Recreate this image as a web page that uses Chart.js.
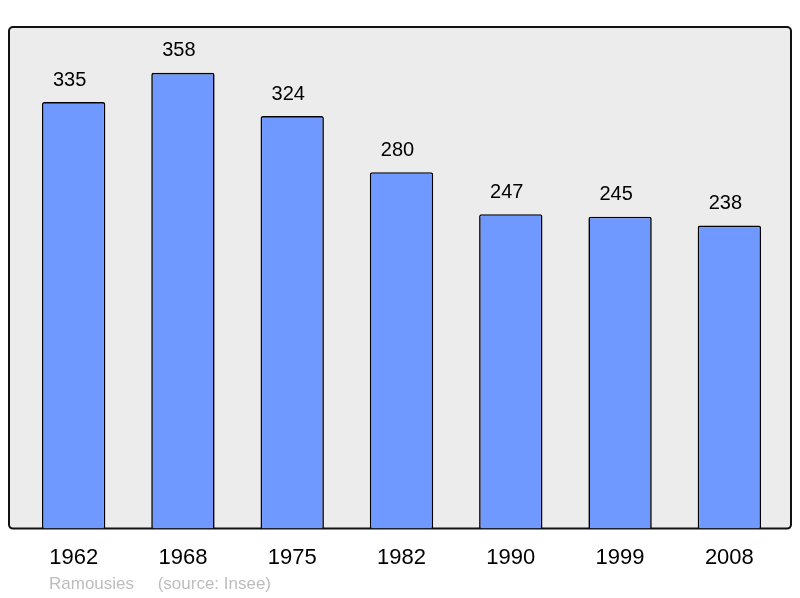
<!DOCTYPE html>
<html>
<head>
<meta charset="utf-8">
<script src="https://cdn.jsdelivr.net/npm/chart.js"></script>
<style>
body { margin: 0; background: #fff; }
#wrap { position: relative; width: 800px; height: 598px; }
#note { position: absolute; left: 49px; top: 574px; font: 17px "Liberation Sans", Arial, sans-serif; color: #bdbdbd; white-space: pre; }
</style>
</head>
<body>
<div id="wrap">
<canvas id="chart" width="800" height="598"></canvas>
<div id="note">Ramousies     (source: Insee)</div>
</div>
<script>
// population by census year
const years = ['1962', '1968', '1975', '1982', '1990', '1999', '2008'];
const population = [335, 358, 324, 280, 247, 245, 238];

const panelBox = {
  id: 'panelBox',
  beforeDraw(chart) {
    const { ctx, chartArea } = chart;
    ctx.save();
    ctx.beginPath();
    ctx.roundRect(9, chartArea.top, 782, chartArea.bottom - chartArea.top, 4);
    ctx.fillStyle = '#ececec';
    ctx.fill();
    ctx.lineWidth = 2;
    ctx.strokeStyle = '#111';
    ctx.stroke();
    ctx.restore();
  }
};

const valueLabels = {
  id: 'valueLabels',
  afterDatasetsDraw(chart) {
    const { ctx } = chart;
    const meta = chart.getDatasetMeta(0);
    ctx.save();
    ctx.font = '20px "Liberation Sans", Arial, sans-serif';
    ctx.fillStyle = '#000';
    ctx.textAlign = 'center';
    ctx.textBaseline = 'middle';
    meta.data.forEach((bar, i) => {
      ctx.fillText(population[i], bar.x - 4, bar.y - 22);
    });
    ctx.restore();
  }
};

new Chart(document.getElementById('chart'), {
  type: 'bar',
  data: {
    labels: years,
    datasets: [{
      data: population,
      backgroundColor: '#7099ff',
      borderColor: '#000',
      borderWidth: 1.6,
      borderRadius: { topLeft: 2, topRight: 2 },
      borderSkipped: 'bottom',
      categoryPercentage: 1,
      barPercentage: 0.58
    }]
  },
  options: {
    responsive: false,
    animation: false,
    devicePixelRatio: 1,
    layout: { padding: { left: 19, right: 16, top: 27, bottom: 19 } },
    plugins: { legend: { display: false }, tooltip: { enabled: false } },
    scales: {
      x: {
        grid: { display: false },
        border: { display: false },
        ticks: {
          color: '#000',
          padding: 8,
          font: { family: '"Liberation Sans", Arial, sans-serif', size: 22 }
        }
      },
      y: { display: false, min: 0, max: 394 }
    }
  },
  plugins: [panelBox, valueLabels]
});
</script>
</body>
</html>
